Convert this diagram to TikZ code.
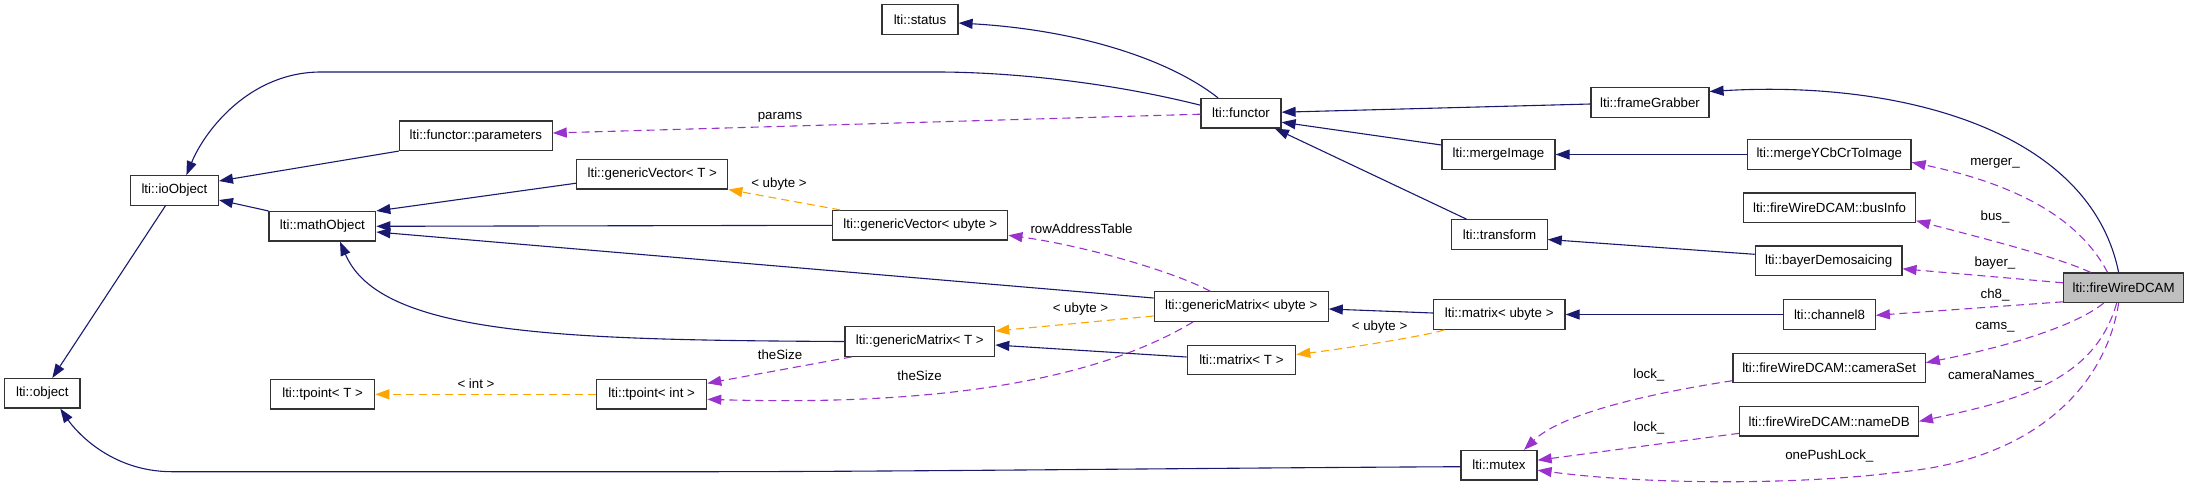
\documentclass[tikz,border=0pt]{standalone}
\usepackage{fontspec}
\setmainfont{Liberation Sans}
\usetikzlibrary{arrows.meta}
\definecolor{inh}{HTML}{191970}
\definecolor{usecol}{HTML}{9A32CD}
\definecolor{tplcol}{HTML}{FFA500}
\definecolor{grayfill}{HTML}{BFBFBF}
\begin{document}
\begin{tikzpicture}[x=1pt,y=-1pt,
  every node/.style={font=\fontsize{13.3}{16}\selectfont},
  cls/.style={draw=black!80, line width=1.2pt, fill=white, inner sep=0pt, minimum height=29.5pt},
  inhedge/.style={draw=inh, line width=1.1pt, -{Triangle[length=14pt,width=10pt]}},
  useedge/.style={draw=usecol, line width=1.1pt, dash pattern=on 8pt off 5pt, -{Triangle[length=14pt,width=10pt]}},
  tpledge/.style={draw=tplcol, line width=1.1pt, dash pattern=on 8pt off 5pt, -{Triangle[length=14pt,width=10pt]}},
  lbl/.style={inner sep=0pt}]
\useasboundingbox (0,0) rectangle (2189,491);

% classes
\node[cls, minimum width=76pt] (status) at (920,19.5) {lti::status};
\node[cls, minimum width=80pt] (functor) at (1241,113.2) {lti::functor};
\node[cls, minimum width=118pt] (frameGrabber) at (1650,102.5) {lti::frameGrabber};
\node[cls, minimum width=152.7pt] (parameters) at (475.8,135.7) {lti::functor::parameters};
\node[cls, minimum width=88pt] (ioObject) at (174.4,190.5) {lti::ioObject};
\node[cls, minimum width=151pt] (gvT) at (652.3,174.2) {lti::genericVector< T >};
\node[cls, minimum width=113pt] (mergeImage) at (1498.5,154.5) {lti::mergeImage};
\node[cls, minimum width=163.5pt] (ycbcr) at (1829.3,154.5) {lti::mergeYCbCrToImage};
\node[cls, minimum width=171.8pt] (busInfo) at (1829.6,207.7) {lti::fireWireDCAM::busInfo};
\node[cls, minimum width=106.7pt] (mathObject) at (322.4,226.3) {lti::mathObject};
\node[cls, minimum width=175pt] (gvU) at (920.3,225.3) {lti::genericVector< ubyte >};
\node[cls, minimum width=95.3pt] (transform) at (1499.5,234.5) {lti::transform};
\node[cls, minimum width=146.6pt] (bayer) at (1828.6,260.8) {lti::bayerDemosaicing};
\node[cls, minimum width=120pt, fill=grayfill] (fwd) at (2123.6,287.8) {lti::fireWireDCAM};
\node[cls, minimum width=174pt] (gmU) at (1241.2,306.5) {lti::genericMatrix< ubyte >};
\node[cls, minimum width=131.6pt] (matrixU) at (1499.2,314.5) {lti::matrix< ubyte >};
\node[cls, minimum width=91.5pt] (channel8) at (1829.5,314.5) {lti::channel8};
\node[cls, minimum width=149.8pt] (gmT) at (919.8,341.5) {lti::genericMatrix< T >};
\node[cls, minimum width=108.6pt] (matrixT) at (1241.4,360) {lti::matrix< T >};
\node[cls, minimum width=75.3pt] (object) at (42.3,393.3) {lti::object};
\node[cls, minimum width=104.3pt] (tpointT) at (322.6,394.3) {lti::tpoint< T >};
\node[cls, minimum width=110pt] (tpointInt) at (651.7,394.3) {lti::tpoint< int >};
\node[cls, minimum width=192.2pt] (cameraSet) at (1829.1,368) {lti::fireWireDCAM::cameraSet};
\node[cls, minimum width=178.6pt] (nameDB) at (1829.1,421.3) {lti::fireWireDCAM::nameDB};
\node[cls, minimum width=76pt] (mutex) at (1499,465.2) {lti::mutex};

% inheritance edges
\draw[inhedge] ([yshift=8pt]functor.west) .. controls (1100,80) and (1000,72) .. (937,72) -- (321,72) .. controls (250,72) and (205,130) .. ([xshift=12pt]ioObject.north);
\draw[inhedge] ([xshift=-23pt]functor.north) .. controls (1170,60) and (1080,30) .. ([yshift=-3.5pt]status.east);
\draw[inhedge] (parameters.south west) -- ([yshift=9.5pt]ioObject.east);
\draw[inhedge] (mathObject.north west) -- ([yshift=-9.5pt]ioObject.east);
\draw[inhedge] ([xshift=-9pt]ioObject.south) -- ([xshift=10pt]object.north);
\draw[inhedge] ([yshift=-9pt]gvT.west) -- (mathObject.north east);
\draw[inhedge] (gvU.west) -- (mathObject.east);
\draw[inhedge] ([yshift=8.5pt]gmU.west) -- ([yshift=-5.7pt]mathObject.east);
\draw[inhedge] (gmT.west) .. controls (560,340) and (380,335) .. ([xshift=17.6pt]mathObject.south);
\draw[inhedge] ([yshift=-1.5pt]frameGrabber.west) -- ([yshift=1pt]functor.east);
\draw[inhedge] ([yshift=9.5pt]mergeImage.west) -- ([yshift=-9pt]functor.east);
\draw[inhedge] ([xshift=-33pt]transform.north) -- ([xshift=34pt]functor.south);
\draw[inhedge] (ycbcr.west) -- (mergeImage.east);
\draw[inhedge] ([yshift=6.5pt]bayer.west) -- ([yshift=-5pt]transform.east);
\draw[inhedge] ([xshift=-5pt]fwd.north) .. controls (2090,130) and (1900,80) .. ([yshift=11pt]frameGrabber.east);
\draw[inhedge] ([yshift=1.5pt]matrixU.west) -- ([yshift=-2.5pt]gmU.east);
\draw[inhedge] (channel8.west) -- (matrixU.east);
\draw[inhedge] ([yshift=3pt]matrixT.west) -- ([yshift=-3.5pt]gmT.east);
\draw[inhedge] ([yshift=-1.5pt]mutex.west) .. controls (1200,468) and (900,471.7) .. (700,471.7) -- (172,471.7) .. controls (110,471.7) and (75,430) .. ([xshift=18pt]object.south);

% template edges
\draw[tpledge] ([xshift=-80pt]gvU.north) -- (gvT.south east);
\node[lbl] (l_ub1) at (779,184) {< ubyte >};
\draw[tpledge] ([yshift=-9.5pt]gmU.west) -- ([yshift=10.5pt]gmT.east);
\node[lbl] (l_ub2) at (1080.5,309.3) {< ubyte >};
\draw[tpledge] ([xshift=-55pt]matrixU.south) .. controls (1430,335) and (1350,348) .. ([yshift=5.5pt]matrixT.east);
\node[lbl] (l_ub3) at (1379.6,327.3) {< ubyte >};
\draw[tpledge] (tpointInt.west) -- (tpointT.east);
\node[lbl] (l_int) at (476,384) {< int >};

% usage edges
\draw[useedge] ([yshift=-1pt]functor.west) -- ([yshift=2.7pt]parameters.east);
\node[lbl] (l_params) at (780,117.3) {params};
\draw[useedge] ([xshift=-31pt]gmU.north) .. controls (1170,270) and (1080,245) .. ([yshift=-10pt]gvU.east);
\node[lbl] (l_row) at (1081.5,229) {rowAddressTable};
\draw[useedge] ([xshift=-68pt]gmT.south) -- ([yshift=11pt]tpointInt.east);
\node[lbl] (l_size1) at (780,355) {theSize};
\draw[useedge] ([xshift=-48pt]gmU.south) .. controls (1080,390) and (900,405) .. ([yshift=-5pt]tpointInt.east);
\node[lbl] (l_size2) at (919.6,375.7) {theSize};
\draw[useedge] ([xshift=-16pt]fwd.north) .. controls (2080,220) and (2020,185) .. ([yshift=-7.8pt]ycbcr.east);
\node[lbl] (l_merger) at (1995,163.3) {merger\_};
\draw[useedge] ([xshift=-33pt]fwd.north) .. controls (2060,258) and (1990,240) .. ([yshift=-13pt]busInfo.east);
\node[lbl] (l_bus) at (1995,216.7) {bus\_};
\draw[useedge] ([yshift=5pt]fwd.west) -- ([yshift=-8pt]bayer.east);
\node[lbl] (l_bayer) at (1995,263.3) {bayer\_};
\draw[useedge] ([yshift=-14pt]fwd.west) -- ([yshift=-0.8pt]channel8.east);
\node[lbl] (l_ch8) at (1995,295) {ch8\_};
\draw[useedge] ([xshift=-20pt]fwd.south) .. controls (2070,330) and (1990,350) .. ([yshift=5.3pt]cameraSet.east);
\node[lbl] (l_cams) at (1995,327.7) {cams\_};
\draw[useedge] ([xshift=-7pt]fwd.south) .. controls (2095,380) and (2020,400) .. (nameDB.east);
\node[lbl] (l_camnames) at (1995,376) {cameraNames\_};
\coordinate (c_opl) at (1900,472);
\draw[useedge] ([xshift=-5pt]fwd.south) .. controls (2105,390) and (2030,460) .. (c_opl) .. controls (1800,485) and (1650,485) .. ([yshift=-5pt]mutex.east);
\node[lbl] (l_opl) at (1829.3,456) {onePushLock\_};
\draw[useedge] ([yshift=-12.7pt]cameraSet.west) .. controls (1640,395) and (1560,415) .. ([xshift=25pt]mutex.north);
\node[lbl] (l_lock1) at (1648.8,375) {lock\_};
\draw[useedge] ([yshift=-12pt]nameDB.west) -- ([yshift=5pt]mutex.east);
\node[lbl] (l_lock2) at (1648.8,428.3) {lock\_};
\end{tikzpicture}
\end{document}
